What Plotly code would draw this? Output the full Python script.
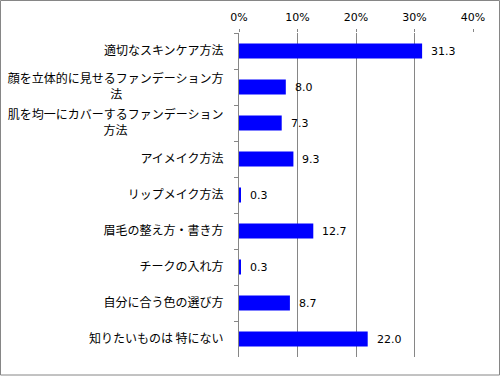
import plotly.graph_objects as go

categories = [
    "適切なスキンケア方法",
    "顔を立体的に見せるファンデーション方<br>法" + "\u3000" * 8 + "\u00a0\u00a0",
    "肌を均一にカバーするファンデーション<br>方法" + "\u3000" * 8,
    "アイメイク方法",
    "リップメイク方法",
    "眉毛の整え方・書き方",
    "チークの入れ方",
    "自分に合う色の選び方",
    "知りたいものは 特にない",
]
values = [31.3, 8.0, 7.3, 9.3, 0.3, 12.7, 0.3, 8.7, 22.0]
x_ticks = [0, 10, 20, 30, 40]

W, H = 501, 376
L, R, T, B = 239, 28, 33, 19
pw = W - L - R
ph = H - T - B

fig = go.Figure()
fig.add_trace(go.Bar(
    x=values, y=categories, orientation="h",
    marker=dict(color="#0000FF", line=dict(width=0)),
    width=0.42,
    hoverinfo="skip",
))

for c, v in zip(categories, values):
    fig.add_annotation(
        x=v, y=c, xref="x", yref="y", text=f"{v:.1f}",
        showarrow=False, xanchor="left", yanchor="middle", xshift=7,
        font=dict(family="DejaVu Sans", size=11, color="#000000"),
    )

# outer chart border
fig.add_shape(
    type="rect", xref="paper", yref="paper",
    x0=(0.5 - L) / pw, x1=(499.5 - L) / pw,
    y0=-(375.0 - (H - B)) / ph, y1=1 + (T - 0.5) / ph,
    line=dict(color="#868686", width=1), fillcolor="rgba(0,0,0,0)", layer="above",
)

fig.update_layout(
    width=W, height=H,
    margin=dict(l=L, r=R, t=T, b=B, pad=0, autoexpand=False),
    paper_bgcolor="white", plot_bgcolor="white",
    showlegend=False,
    font=dict(family="Noto Sans CJK JP", size=12, color="#000000"),
    xaxis=dict(
        range=[0, 40], side="top", tickvals=x_ticks,
        ticktext=[f"{t}%" for t in x_ticks],
        showgrid=True, gridcolor="#868686", gridwidth=1,
        zeroline=False, showline=False,
        ticks="outside", ticklen=3, tickcolor="#868686",
        ticklabelstandoff=4, automargin=False,
        tickfont=dict(family="DejaVu Sans", size=11, color="#000000"),
        fixedrange=True,
    ),
    yaxis=dict(
        autorange="reversed", type="category",
        showline=True, linecolor="#868686", linewidth=1,
        ticks="outside", tickson="boundaries", ticklen=4, tickcolor="#868686",
        ticklabelstandoff=12, automargin=False,
        showgrid=False, zeroline=False,
        tickfont=dict(family="Noto Sans CJK JP", size=12, color="#000000"),
        fixedrange=True,
    ),
    bargap=0.58,
)

fig.write_html(
    "out.html",
    config={"displayModeBar": False},
    post_script="document.body.style.margin='0';document.body.style.overflow='hidden';",
)
